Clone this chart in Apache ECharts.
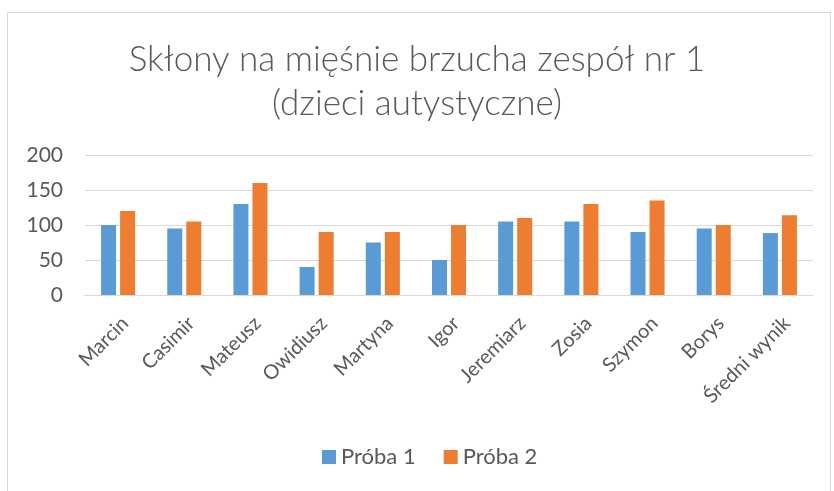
<!DOCTYPE html>
<html>
<head>
<meta charset="utf-8">
<script src="https://cdn.jsdelivr.net/npm/echarts@6/dist/echarts.min.js"></script>
<style>html,body{margin:0;padding:0;background:#fff;}#c{width:834px;height:491px;}</style>
</head>
<body>
<div id="c"></div>
<script>
const categories = ['Marcin','Casimir','Mateusz','Owidiusz','Martyna','Igor','Jeremiarz','Zosia','Szymon','Borys','Średni wynik'];
const proba1 = [100, 95, 130, 40, 75, 50, 105, 105, 90, 95, 88.5];
const proba2 = [120, 105, 160, 90, 90, 100, 110, 130, 135, 100, 114];
const yTicks = [0, 50, 100, 150, 200];
const seriesNames = ['Próba 1', 'Próba 2'];

const chart = echarts.init(document.getElementById('c'), null, {renderer: 'canvas'});
const FONT = 'Lato, "Open Sans", sans-serif';
chart.setOption({
  animation: false,
  backgroundColor: '#fff',
  graphic: [{
    type: 'rect', left: 5, top: 10, shape: {width: 823, height: 480},
    style: {fill: 'none', stroke: '#D9D9D9', lineWidth: 1}, silent: true
  }],
  title: {
    text: 'Skłony na mięśnie brzucha zespół nr 1\n(dzieci autystyczne)',
    left: 'center', top: 33, padding: [5, 5, 5, 23],
    textStyle: {fontFamily: FONT, fontSize: 35, fontWeight: 300, color: '#595959', lineHeight: 44}
  },
  legend: {
    data: seriesNames, top: 441, left: 317, itemWidth: 14, itemHeight: 14, itemGap: 28,
    icon: 'rect',
    textStyle: {fontFamily: FONT, fontSize: 22, color: '#595959'}
  },
  grid: {left: 85, right: 21, top: 155, bottom: 196, containLabel: false},
  xAxis: {
    type: 'category', data: categories,
    axisLine: {show: true, lineStyle: {color: '#D9D9D9', width: 1}},
    axisTick: {show: false},
    axisLabel: {rotate: 45, fontFamily: FONT, fontSize: 20, color: '#595959', margin: 18, interval: 0,
      verticalAlign: 'top'}
  },
  yAxis: {
    type: 'value', min: 0, max: 200, interval: 50,
    axisLine: {show: false}, axisTick: {show: false},
    splitLine: {lineStyle: {color: '#D9D9D9', width: 1}},
    axisLabel: {fontFamily: FONT, fontSize: 21, color: '#595959', margin: 22,
      formatter: v => yTicks.includes(v) ? String(v) : ''}
  },
  series: [
    {name: seriesNames[0], type: 'bar', data: proba1, barWidth: 15, barGap: '27%',
      itemStyle: {color: '#5B9BD5'}},
    {name: seriesNames[1], type: 'bar', data: proba2, barWidth: 15,
      itemStyle: {color: '#ED7D31'}}
  ]
});
</script>
</body>
</html>
